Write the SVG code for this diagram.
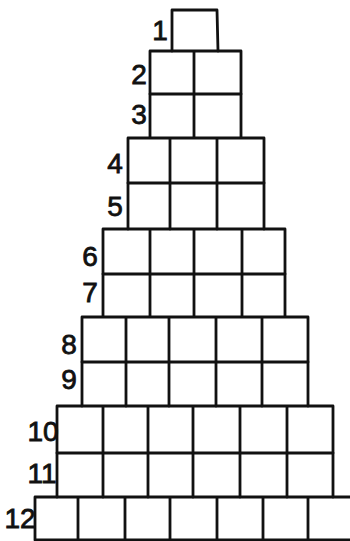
<svg xmlns="http://www.w3.org/2000/svg" width="350" height="541" viewBox="0 0 350 541">
<style>
.g{fill:none;stroke:#111;stroke-width:2.8;stroke-linecap:round;stroke-linejoin:round}
.t{font-family:"Liberation Sans",Arial,sans-serif;font-size:28px;fill:#111;stroke:#111;stroke-width:0.8;text-anchor:middle}
</style>
<rect width="350" height="541" fill="#fff"/>
<g id="row1"><path class="g" d="M172,51 L172,10 L217,10 L218,51"/><text class="t" x="160" y="40">1</text></g>
<g id="row2"><path class="g" d="M150,94 L150,51 L241,51 L241,94 M194,51 L194,94"/><text class="t" x="139" y="84">2</text></g>
<g id="row3"><path class="g" d="M150,137 L150,94 L241,94 L241,137 M194,94 L194,137"/><text class="t" x="139" y="124">3</text></g>
<g id="row4"><path class="g" d="M128,183 L128,138 L264,138 L264,183 M170,138 L170,183 M217,138 L217,183"/><text class="t" x="115" y="173">4</text></g>
<g id="row5"><path class="g" d="M128,229 L128,183 L264,183 L264,229 M170,183 L170,229 M217,183 L217,229"/><text class="t" x="115" y="216">5</text></g>
<g id="row6"><path class="g" d="M103,274 L103,229 L285,229 L285,274 M150,229 L150,274 M194,229 L194,274 M242,229 L242,274"/><text class="t" x="90" y="266">6</text></g>
<g id="row7"><path class="g" d="M103,316 L103,274 L285,274 L285,316 M150,274 L150,316 M194,274 L194,316 M242,274 L242,316"/><text class="t" x="90" y="302">7</text></g>
<g id="row8"><path class="g" d="M82,362 L82,317 L308,317 L308,362 M126,317 L126,362 M169,317 L169,362 M216,317 L216,362 M262,317 L262,362"/><text class="t" x="69" y="354">8</text></g>
<g id="row9"><path class="g" d="M82,406 L82,362 L308,362 L308,406 M126,362 L126,406 M169,362 L169,406 M216,362 L216,406 M262,362 L262,406"/><text class="t" x="69" y="389">9</text></g>
<g id="row10"><path class="g" d="M57,453 L57,406 L333,406 L333,453 M103,406 L103,453 M148,406 L148,453 M193,406 L193,453 M240,406 L240,453 M287,406 L287,453"/><text class="t" x="43" y="441">10</text></g>
<g id="row11"><path class="g" d="M57,497 L57,453 L333,453 L333,497 M103,453 L103,497 M148,453 L148,497 M193,453 L193,497 M240,453 L240,497 M287,453 L287,497"/><text class="t" x="42" y="483">11</text></g>
<g id="row12"><path class="g" d="M35,540 L35,497 L350,497 M35,540 L350,540 M78,497 L78,540 M125,497 L125,540 M170,497 L170,540 M217,497 L217,540 M263,497 L263,540 M308,497 L308,540"/><text class="t" x="20" y="528">12</text></g>
</svg>
